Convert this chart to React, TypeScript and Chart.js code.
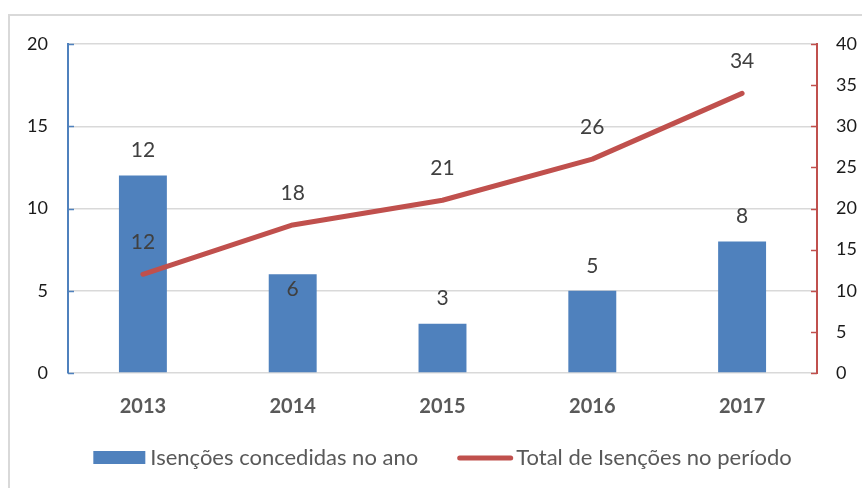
import React, { useEffect, useRef } from 'react';
import { Chart, registerables } from 'chart.js';

Chart.register(...registerables);

const categories = ['2013', '2014', '2015', '2016', '2017'];
const annualValues = [12, 6, 3, 5, 8];
const cumulativeValues = [12, 18, 21, 26, 34];
const seriesNames = ['Isenções concedidas no ano', 'Total de Isenções no período'];
const leftAxisMax = 20;
const rightAxisMax = 40;
const tickStep = 5;
// whether the bar's value label sits inside the bar (as in the source)
const barLabelInside = [false, true, false, false, false];

const BLUE = '#4F81BD';
const RED = '#C0504D';
const FONT = 'Lato, "Open Sans", sans-serif';

const overlay = {
  id: 'overlay',
  beforeDraw(chart: any) {
    const ctx = chart.ctx;
    ctx.save();
    ctx.strokeStyle = '#d9d9d9';
    ctx.lineWidth = 2;
    ctx.beginPath();
    ctx.moveTo(9, chart.height);
    ctx.lineTo(9, 15);
    ctx.lineTo(chart.width, 15);
    ctx.stroke();
    ctx.restore();
  },
  afterDatasetsDraw(chart: any) {
    const ctx = chart.ctx;
    const area = chart.chartArea;
    const yl = chart.scales.y;
    const yr = chart.scales.y1;
    ctx.save();
    // inner tick marks
    ctx.lineWidth = 1.5;
    ctx.strokeStyle = BLUE;
    yl.ticks.forEach((t: any) => {
      const py = Math.round(yl.getPixelForValue(t.value)) + 0.5;
      ctx.beginPath();
      ctx.moveTo(area.left, py);
      ctx.lineTo(area.left + 6, py);
      ctx.stroke();
    });
    ctx.strokeStyle = RED;
    yr.ticks.forEach((t: any) => {
      const py = Math.round(yr.getPixelForValue(t.value)) + 0.5;
      ctx.beginPath();
      ctx.moveTo(area.right - 6, py);
      ctx.lineTo(area.right, py);
      ctx.stroke();
    });

    // data labels
    ctx.fillStyle = '#404040';
    ctx.font = `21px ${FONT}`;
    ctx.textAlign = 'center';
    ctx.textBaseline = 'middle';
    chart.data.datasets.forEach((ds: any, di: number) => {
      const meta = chart.getDatasetMeta(di);
      meta.data.forEach((el: any, i: number) => {
        if (ds.type === 'bar') {
          const y = barLabelInside[i] ? el.y + 15 : el.y - 25;
          ctx.fillText(String(annualValues[i]), el.x, y);
        } else {
          ctx.fillText(String(cumulativeValues[i]), el.x, el.y - 32);
        }
      });
    });

    // legend
    ctx.font = `22px ${FONT}`;
    ctx.textAlign = 'left';
    const w1 = ctx.measureText(seriesNames[0]).width;
    const w2 = ctx.measureText(seriesNames[1]).width;
    const boxW = 52;
    const lineW = 56;
    const total = boxW + 5 + w1 + 39 + lineW + 3 + w2;
    let x = (area.left + area.right) / 2 - total / 2;
    const cy = 458;
    ctx.fillStyle = BLUE;
    ctx.fillRect(x, cy - 7, boxW, 13);
    x += boxW + 5;
    ctx.fillStyle = '#595959';
    ctx.fillText(seriesNames[0], x, cy);
    x += w1 + 39;
    ctx.strokeStyle = RED;
    ctx.lineWidth = 5;
    ctx.lineCap = 'round';
    ctx.beginPath();
    ctx.moveTo(x + 2.5, cy);
    ctx.lineTo(x + lineW - 2.5, cy);
    ctx.stroke();
    x += lineW + 3;
    ctx.fillStyle = '#595959';
    ctx.fillText(seriesNames[1], x, cy);
    ctx.restore();
  },
};

export default function App() {
  const ref = useRef<HTMLCanvasElement>(null);
  useEffect(() => {
    if (!ref.current) return;
    const chart = new Chart(ref.current, {
      type: 'bar',
      data: {
        labels: categories,
        datasets: [
          {
            type: 'line',
            label: seriesNames[1],
            data: cumulativeValues,
            yAxisID: 'y1',
            borderColor: RED,
            backgroundColor: RED,
            borderWidth: 5,
            borderCapStyle: 'round',
            borderJoinStyle: 'round',
            pointRadius: 0,
            tension: 0,
            order: 0,
          } as any,
          {
            type: 'bar',
            label: seriesNames[0],
            data: annualValues,
            yAxisID: 'y',
            backgroundColor: BLUE,
            barPercentage: 0.32,
            categoryPercentage: 1,
            order: 1,
          } as any,
        ],
      },
      options: {
        responsive: false,
        animation: false,
        layout: { padding: { top: 44, left: 0, right: 0, bottom: 0 } },
        plugins: { legend: { display: false }, tooltip: { enabled: false } },
        scales: {
          x: {
            grid: { display: false },
            border: { display: false },
            ticks: { color: '#595959', font: { family: FONT, size: 20, weight: 'bold' }, padding: 14 },
            afterFit(scale: any) { scale.height = 115; },
          },
          y: {
            position: 'left',
            min: 0,
            max: leftAxisMax,
            ticks: { stepSize: tickStep, color: '#1a1a1a', font: { family: FONT, size: 18 }, padding: 20 },
            grid: { color: '#d9d9d9', lineWidth: 1.5, drawTicks: false },
            border: { display: true, color: BLUE, width: 2 },
            afterFit(scale: any) { scale.width = 68; },
          },
          y1: {
            position: 'right',
            min: 0,
            max: rightAxisMax,
            ticks: { stepSize: tickStep, color: '#1a1a1a', font: { family: FONT, size: 18 }, padding: 19 },
            grid: { drawOnChartArea: false, drawTicks: false },
            border: { display: true, color: RED, width: 2 },
            afterFit(scale: any) { scale.width = 45; },
          },
        },
      } as any,
      plugins: [overlay],
    });
    return () => chart.destroy();
  }, []);
  return (
    <div style={{ position: 'absolute', left: 0, top: 0, width: 862, height: 488, background: '#fff' }}>
      <canvas ref={ref} width={862} height={488} style={{ display: 'block' }} />
    </div>
  );
}
